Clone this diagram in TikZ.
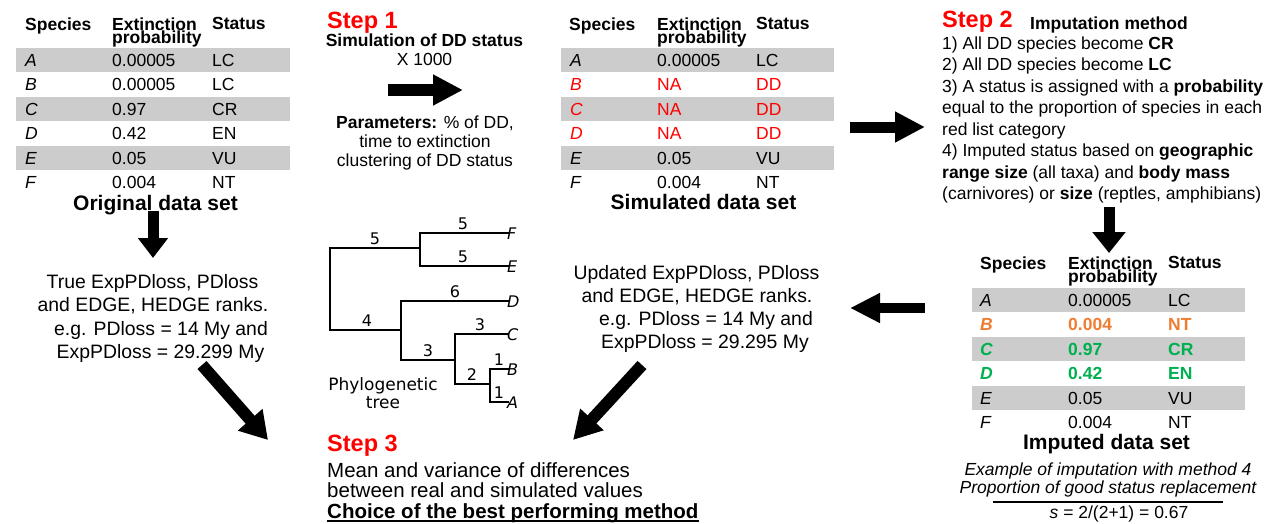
\documentclass[tikz,border=0pt]{standalone}
\usepackage{fontspec}
\setmainfont{Liberation Sans}
\newfontfamily\treefont{DejaVu Sans}
\usetikzlibrary{arrows.meta}
\definecolor{rowgray}{RGB}{204,204,204}
\definecolor{stepred}{RGB}{255,0,0}
\definecolor{impor}{RGB}{237,125,49}
\definecolor{impgr}{RGB}{0,176,80}
\newcommand{\txt}{\fontsize{17.5}{21}\selectfont}
\newcommand{\midtxt}{\fontsize{19.4}{23}\selectfont}
\newcommand{\bigtxt}{\fontsize{20.5}{21}\selectfont}
\begin{document}
\begin{tikzpicture}[x=1pt,y=-1pt,
  cell/.style={anchor=base west, inner sep=0pt, font=\txt},
  hdr/.style={anchor=base west, inner sep=0pt, font=\bfseries\txt},
  ctext/.style={anchor=base, inner sep=0pt, font=\txt},
  mtext/.style={anchor=base, inner sep=0pt, font=\midtxt},
  ltext/.style={anchor=base west, inner sep=0pt, font=\txt},
  btext/.style={anchor=base west, inner sep=0pt, font=\bigtxt},
  title/.style={anchor=base, inner sep=0pt, font=\bfseries\fontsize{21}{25}\selectfont},
  steptitle/.style={anchor=base west, inner sep=0pt, text=stepred, font=\bfseries\fontsize{23.5}{28}\selectfont},
  branch/.style={line width=2.6pt, line join=miter, line cap=rect},
  tlab/.style={anchor=base, inner sep=0pt, font=\treefont\fontsize{16}{19}\selectfont},
  plab/.style={anchor=base, inner sep=0pt, font=\treefont\fontsize{17}{19}\selectfont},
  leaf/.style={anchor=base west, inner sep=0pt, font=\treefont\itshape\fontsize{16}{19}\selectfont},
]
\useasboundingbox (0,0) rectangle (1274,523);

% ---------- Table 1: original ----------
\foreach \k in {0,2,4} {\fill[rowgray] (16,{48+\k*24.4}) rectangle (290,{48+(\k+1)*24.4});}
\node[hdr] (h1s) at (25,30) {Species};
\node[hdr] (h1e) at (112,30) {Extinction};
\node[hdr] (h1p) at (112,43) {probability};
\node[hdr] (h1t) at (212,29) {Status};
\foreach \sp/\val/\st [count=\i] in {A/0.00005/LC,B/0.00005/LC,C/0.97/CR,D/0.42/EN,E/0.05/VU,F/0.004/NT}{
  \pgfmathsetmacro\yb{66.5+(\i-1)*24.4}
  \node[cell] (t1s\i) at (25,\yb) {\textit{\sp}};
  \node[cell] (t1v\i) at (112,\yb) {\val};
  \node[cell] (t1t\i) at (212,\yb) {\st};
}
\node[title] (orig) at (155.5,210) {Original data set};

% ---------- Step 1 ----------
\node[steptitle] (s1) at (327,28) {Step 1};
\node[anchor=base, inner sep=0pt, font=\bfseries\txt] (sim) at (424.5,46.5) {Simulation of DD status};
\node[ctext] (x1000) at (424.5,65) {X 1000};
\node[ctext] (par1) at (425,128) {\textbf{Parameters:} \% of DD,};
\node[ctext] (par2) at (425,147) {time to extinction};
\node[ctext] (par3) at (425,166) {clustering of DD status};
\coordinate (a1s) at (388,90);
\coordinate (a1e) at (463,90);
\draw[draw=black, line width=12pt, -{Triangle[length=30pt,width=29pt]}] (a1s) -- (a1e);

% ---------- Table 2: simulated ----------
\foreach \k in {0,2,4} {\fill[rowgray] (561,{48+\k*24.4}) rectangle (834,{48+(\k+1)*24.4});}
\node[hdr] (h2s) at (569,30) {Species};
\node[hdr] (h2e) at (657,30) {Extinction};
\node[hdr] (h2p) at (657,43) {probability};
\node[hdr] (h2t) at (756,29) {Status};
\foreach \sp/\val/\st/\col [count=\i] in {A/0.00005/LC/black,B/NA/DD/stepred,C/NA/DD/stepred,D/NA/DD/stepred,E/0.05/VU/black,F/0.004/NT/black}{
  \pgfmathsetmacro\yb{66.5+(\i-1)*24.4}
  \node[cell, text=\col] (t2s\i) at (570,\yb) {\textit{\sp}};
  \node[cell, text=\col] (t2v\i) at (657,\yb) {\val};
  \node[cell, text=\col] (t2t\i) at (756,\yb) {\st};
}
\node[title] (simset) at (703.5,209) {Simulated data set};

% ---------- Step 2 ----------
\coordinate (a2s) at (850,127);
\coordinate (a2e) at (925,127);
\draw[draw=black, line width=11pt, -{Triangle[length=30pt,width=29pt]}] (a2s) -- (a2e);
\node[steptitle] (s2) at (942,27) {Step 2};
\node[hdr] (impm) at (1030,29) {Imputation method};
\node[ltext] (m1) at (942,49) {1) All DD species become \textbf{CR}};
\node[ltext] (m2) at (942,70.5) {2) All DD species become \textbf{LC}};
\node[ltext] (m3) at (942,92) {3) A status is assigned with a \textbf{probability}};
\node[ltext] (m3b) at (942,113.5) {equal to the proportion of species in each};
\node[ltext] (m3c) at (942,135) {red list category};
\node[ltext] (m4) at (942,156.5) {4) Imputed status based on \textbf{geographic}};
\node[ltext] (m4b) at (942,178) {\textbf{range size} (all taxa) and \textbf{body mass}};
\node[ltext] (m4c) at (942,199.5) {(carnivores) or \textbf{size} (reptles, amphibians)};
\coordinate (a5s) at (1109,207);
\coordinate (a5e) at (1109,253);
\draw[draw=black, line width=11pt, -{Triangle[length=21pt,width=32pt]}] (a5s) -- (a5e);

% ---------- Table 3: imputed ----------
\foreach \k in {0,2,4} {\fill[rowgray] (972,{288+\k*24.4}) rectangle (1245,{288+(\k+1)*24.4});}
\node[hdr] (h3s) at (980,269) {Species};
\node[hdr] (h3e) at (1068,269) {Extinction};
\node[hdr] (h3p) at (1068,282) {probability};
\node[hdr] (h3t) at (1168,268) {Status};
\foreach \sp/\val/\st/\col/\f [count=\i] in {A/0.00005/LC/black/\relax,B/0.004/NT/impor/\bfseries,C/0.97/CR/impgr/\bfseries,D/0.42/EN/impgr/\bfseries,E/0.05/VU/black/\relax,F/0.004/NT/black/\relax}{
  \pgfmathsetmacro\yb{306.5+(\i-1)*24.4}
  \node[cell, text=\col] (t3s\i) at (980,\yb) {\f\textit{\sp}};
  \node[cell, text=\col] (t3v\i) at (1068,\yb) {\f\val};
  \node[cell, text=\col] (t3t\i) at (1168,\yb) {\f\st};
}
\node[title] (impset) at (1106.5,449) {Imputed data set};
\node[ctext, font=\itshape\txt] (ex1) at (1108,475) {Example of imputation with method 4};
\node[ctext, font=\itshape\txt] (ex2) at (1108,493) {Proportion of good status replacement};
\coordinate (fr1) at (993,502);
\coordinate (fr2) at (1223,502);
\draw[line width=1.4pt] (fr1) -- (fr2);
\node[ctext] (sval) at (1119,518) {\textit{s} = 2/(2+1) = 0.67};

% ---------- left branch ----------
\coordinate (a4s) at (153,211);
\coordinate (a4e) at (153,258);
\draw[draw=black, line width=11pt, -{Triangle[length=20pt,width=29pt]}] (a4s) -- (a4e);
\node[mtext] (tr1) at (152.5,288) {True ExpPDloss, PDloss};
\node[mtext] (tr2) at (153,311.5) {and EDGE, HEDGE ranks.};
\node[mtext] (tr3) at (161,335) {e.g. PDloss = 14 My and};
\node[mtext] (tr4) at (160.5,358.5) {ExpPDloss = 29.299 My};
\coordinate (a6s) at (202,365);
\coordinate (a6e) at (268,440);
\draw[draw=black, line width=12pt, -{Triangle[length=27pt,width=31pt]}] (a6s) -- (a6e);

% ---------- middle ----------
\coordinate (a3s) at (925,308);
\coordinate (a3e) at (850,308);
\draw[draw=black, line width=10pt, -{Triangle[length=30pt,width=28pt]}] (a3s) -- (a3e);
\node[mtext] (up1) at (696.5,279) {Updated ExpPDloss, PDloss};
\node[mtext] (up2) at (697,302) {and EDGE, HEDGE ranks.};
\node[mtext] (up3) at (706,325) {e.g. PDloss = 14 My and};
\node[mtext] (up4) at (705,348) {ExpPDloss = 29.295 My};
\coordinate (a7s) at (642,365);
\coordinate (a7e) at (573,440);
\draw[draw=black, line width=12pt, -{Triangle[length=28pt,width=30pt]}] (a7s) -- (a7e);

% ---------- tree ----------
\coordinate (rt) at (330,248);
\coordinate (rb) at (330,330);
\coordinate (n1) at (420,248);
\coordinate (n1t) at (420,233);
\coordinate (n1b) at (420,266);
\coordinate (n2) at (401,330);
\coordinate (n2t) at (401,301);
\coordinate (n2b) at (401,360);
\coordinate (n3) at (455,360);
\coordinate (n3t) at (455,334);
\coordinate (n3b) at (455,384);
\coordinate (n4) at (490,384);
\coordinate (n4t) at (490,369);
\coordinate (n4b) at (490,402);
\coordinate (lF) at (508,233);
\coordinate (lE) at (508,266);
\coordinate (lD) at (508,301);
\coordinate (lC) at (508,334);
\coordinate (lB) at (508,369);
\coordinate (lA) at (508,402);
\draw[branch] (n1) -- (rt) -- (rb) -- (n2);
\draw[branch] (lF) -- (n1t) -- (n1b) -- (lE);
\draw[branch] (lD) -- (n2t) -- (n2b) -- (n3);
\draw[branch] (lC) -- (n3t) -- (n3b) -- (n4);
\draw[branch] (lB) -- (n4t) -- (n4b) -- (lA);
\node[leaf] (F) at (507,239.5) {F};
\node[leaf] (E) at (507,272.5) {E};
\node[leaf] (D) at (507,307.5) {D};
\node[leaf] (C) at (507,340.5) {C};
\node[leaf] (B) at (507,375.5) {B};
\node[leaf] (A) at (507,408.5) {A};
\node[tlab] (b1) at (375,244.5) {5};
\node[tlab] (b2) at (463,229.5) {5};
\node[tlab] (b3) at (463,262.5) {5};
\node[tlab] (b4) at (367,326.5) {4};
\node[tlab] (b5) at (455,297.5) {6};
\node[tlab] (b6) at (428,356.5) {3};
\node[tlab] (b7) at (480,330.5) {3};
\node[tlab] (b8) at (472,380.5) {2};
\node[tlab] (b9) at (499,365.5) {1};
\node[tlab] (b10) at (499,398.5) {1};
\node[plab] (phy1) at (383,390) {Phylogenetic};
\node[plab] (phy2) at (383,408) {tree};

% ---------- Step 3 ----------
\node[steptitle] (s3) at (327,451) {Step 3};
\node[btext] (st1) at (327,477) {Mean and variance of differences};
\node[btext] (st2) at (327,497) {between real and simulated values};
\node[btext, font=\bfseries\bigtxt] (st3) at (327,518) {Choice of the best performing method};
\draw[line width=1.5pt] ([yshift=-3pt]st3.base west) -- ([yshift=-3pt]st3.base east);
\end{tikzpicture}
\end{document}
